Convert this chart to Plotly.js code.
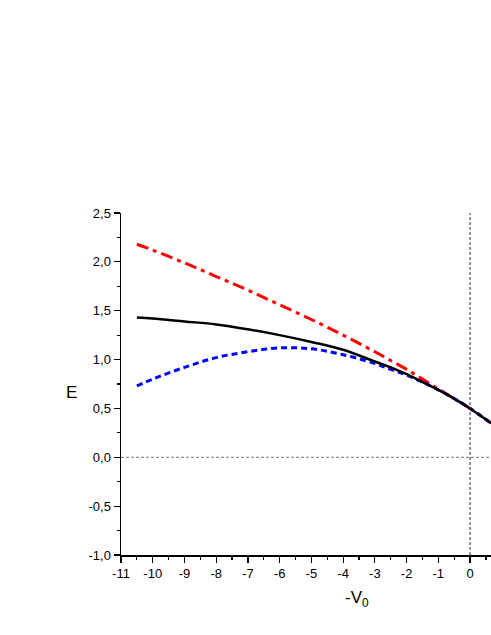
<!DOCTYPE html>
<html>
<head>
<meta charset="utf-8">
<script src="https://cdn.plot.ly/plotly-3.0.1.min.js"></script>
<style>
  html, body { margin: 0; padding: 0; background: #fff; }
  #chart { width: 491px; height: 635px; }
</style>
</head>
<body>
<div id="chart"></div>
<script>
// values
const v0 = [-10.5, -10, -9, -8, -7, -6, -5, -4, -3, -2.5, -2, -1.5, -1, -0.5, 0, 0.66];
const eSolid = [1.43, 1.42, 1.39, 1.36, 1.31, 1.25, 1.18, 1.10, 0.98, 0.92, 0.85, 0.77, 0.69, 0.60, 0.50, 0.35];
const eDotted = [0.73, 0.80, 0.92, 1.02, 1.08, 1.12, 1.11, 1.05, 0.96, 0.90, 0.84, 0.77, 0.69, 0.60, 0.50, 0.35];
const eDashDot = [2.18, 2.12, 1.99, 1.85, 1.71, 1.56, 1.41, 1.25, 1.08, 0.99, 0.90, 0.80, 0.70, 0.60, 0.50, 0.35];

const xTickVals = [-11, -10, -9, -8, -7, -6, -5, -4, -3, -2, -1, 0];
const xTickText = ['-11', '-10', '-9', '-8', '-7', '-6', '-5', '-4', '-3', '-2', '-1', '0'];
const yTickVals = [-1, -0.5, 0, 0.5, 1, 1.5, 2, 2.5];
const yTickText = ['-1,0', '-0,5', '0,0', '0,5', '1,0', '1,5', '2,0', '2,5'];

const fontFamily = 'Liberation Sans, Arial, sans-serif';

const plotData = [
  {
    x: v0, y: eDashDot,
    mode: 'lines',
    line: { color: '#ff0000', width: 3, dash: '12px,5px,4px,5px', shape: 'spline' },
    hoverinfo: 'skip',
  },
  {
    x: v0, y: eDotted,
    mode: 'lines',
    line: { color: '#0000ff', width: 3, dash: '6px,4px', shape: 'spline' },
    hoverinfo: 'skip',
  },
  {
    x: v0, y: eSolid,
    mode: 'lines',
    line: { color: '#000000', width: 2.5, shape: 'spline' },
    hoverinfo: 'skip',
  },
];

const axisCommon = {
  showline: true,
  linecolor: '#000',
  linewidth: 1.5,
  showgrid: false,
  zeroline: false,
  ticks: 'outside',
  ticklen: 6,
  tickwidth: 1.2,
  tickcolor: '#000',
  tickfont: { family: fontFamily, size: 13, color: '#000' },
  fixedrange: true,
};

const plotLayout = {
  width: 491,
  height: 635,
  margin: { l: 121, r: 0, t: 213, b: 80 },
  paper_bgcolor: '#fff',
  plot_bgcolor: '#fff',
  showlegend: false,
  xaxis: Object.assign({}, axisCommon, {
    range: [-11, 0.66],
    tickmode: 'array',
    tickvals: xTickVals,
    ticktext: xTickText,
    minor: { dtick: 0.5, tick0: -11, ticks: 'outside', ticklen: 3, tickcolor: '#000', showgrid: false },
  }),
  yaxis: Object.assign({}, axisCommon, {
    range: [-1, 2.5],
    tickmode: 'array',
    tickvals: yTickVals,
    ticktext: yTickText,
    minor: { dtick: 0.25, tick0: -1, ticks: 'outside', ticklen: 3, tickcolor: '#000', showgrid: false },
  }),
  shapes: [
    // dashed reference lines at x = 0 and y = 0
    { type: 'line', xref: 'x', yref: 'paper', x0: 0, x1: 0, y0: 0, y1: 1,
      line: { color: '#333', width: 1, dash: '3px,2px' } },
    { type: 'line', xref: 'paper', yref: 'y', x0: 0, x1: 1, y0: 0, y1: 0,
      line: { color: '#777', width: 1, dash: '3px,2px' } },
  ],
  annotations: [
    { text: 'E', xref: 'paper', yref: 'paper', x: -0.135, y: 0.474,
      xanchor: 'center', yanchor: 'middle',
      showarrow: false, font: { family: fontFamily, size: 17, color: '#000' } },
    { text: '-V<sub>0</sub>', xref: 'paper', yref: 'paper', x: 0.637, y: -0.128,
      xanchor: 'center', yanchor: 'middle',
      showarrow: false, font: { family: fontFamily, size: 17, color: '#000' } },
  ],
};

Plotly.newPlot('chart', plotData, plotLayout, { displayModeBar: false, staticPlot: true });
</script>
</body>
</html>
